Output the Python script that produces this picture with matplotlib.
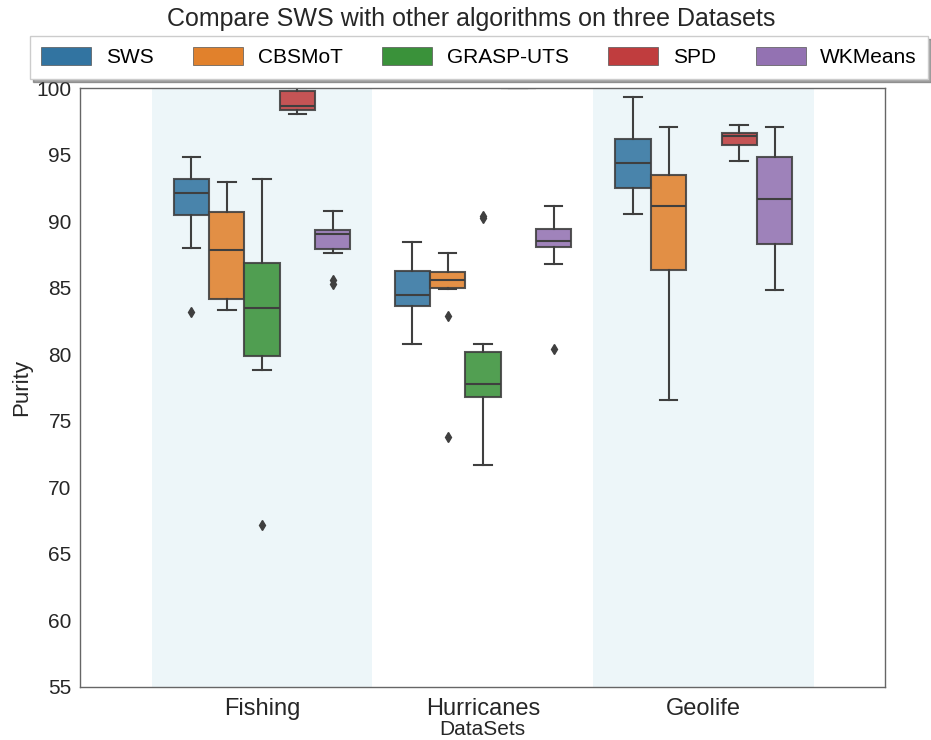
import numpy as np
import matplotlib
matplotlib.use("Agg")
import matplotlib.pyplot as plt
from matplotlib.patches import Patch

plt.rcParams['font.family'] = ['Liberation Sans', 'DejaVu Sans']

datasets = ["Fishing", "Hurricanes", "Geolife"]
algorithms = ["SWS", "CBSMoT", "GRASP-UTS", "SPD", "WKMeans"]
colors = ["#3274a1", "#e1812c", "#3a923a", "#c03d3e", "#9372b2"]

nan = np.nan
# box summaries, one row per algorithm, one column per dataset
medians = [
    [92.1, 84.45, 94.4],
    [87.85, 85.55, 91.1],
    [83.45, 77.75, nan],
    [98.65, 100.0, 96.4],
    [89.0, 88.5, 91.65],
]
q1 = [
    [90.45, 83.65, 92.45],
    [84.15, 84.95, 86.35],
    [79.85, 76.8, nan],
    [98.35, 100.0, 95.7],
    [87.9, 88.05, 88.25],
]
q3 = [
    [93.15, 86.25, 96.15],
    [90.65, 86.2, 93.5],
    [86.85, 80.2, nan],
    [99.8, 100.0, 96.6],
    [89.35, 89.4, 94.85],
]
whis_lo = [
    [87.95, 80.8, 90.55],
    [83.3, 84.9, 76.55],
    [78.85, 71.7, nan],
    [98.05, 100.0, 94.55],
    [87.6, 86.75, 84.8],
]
whis_hi = [
    [94.85, 88.4, 99.35],
    [92.95, 87.6, 97.1],
    [93.15, 80.75, nan],
    [100.0, 100.0, 97.25],
    [90.75, 91.15, 97.1],
]
outliers = [
    [[83.15], [], []],
    [[], [82.9, 73.8], []],
    [[67.15], [90.2, 90.4], []],
    [[], [], []],
    [[85.55, 85.25], [80.4], []],
]

fig, ax = plt.subplots(figsize=(9.31, 7.40), dpi=100)
fig.subplots_adjust(left=80 / 931, right=885 / 931, top=1 - 88 / 740, bottom=1 - 687 / 740)

# shade every other dataset
for i in range(0, len(datasets), 2):
    ax.axvspan(i - 0.5, i + 0.5, color="lightblue", alpha=0.22, lw=0, zorder=0)

width = 0.8 / len(algorithms)
line_col = "#3f3f3f"
for a, alg in enumerate(algorithms):
    stats, pos = [], []
    for d in range(len(datasets)):
        if np.isnan(medians[a][d]):
            continue
        stats.append(dict(med=medians[a][d], q1=q1[a][d], q3=q3[a][d],
                          whislo=whis_lo[a][d], whishi=whis_hi[a][d],
                          fliers=outliers[a][d]))
        pos.append(d - 0.4 + width * (a + 0.5))
    ax.bxp(stats, positions=pos, widths=width, patch_artist=True,
           boxprops=dict(facecolor=colors[a], edgecolor=line_col, lw=1.5, alpha=0.88),
           whiskerprops=dict(color=line_col, lw=1.5),
           capprops=dict(color=line_col, lw=1.5),
           medianprops=dict(color=line_col, lw=1.5),
           flierprops=dict(marker="d", markersize=5, markerfacecolor=line_col,
                           markeredgecolor=line_col))

ax.set_xlim(-0.824, 2.82)
ax.set_ylim(55, 100)
ax.set_yticks(np.arange(55, 101, 5))
ax.set_xticks(range(len(datasets)))
ax.set_xticklabels(datasets, fontsize=17)
ax.tick_params(axis="y", labelsize=15, length=0, pad=6, colors="#262626")
ax.tick_params(axis="x", length=0, pad=8, colors="#262626")
ax.set_xlabel("DataSets", fontsize=15, labelpad=0, color="#262626")
ax.set_ylabel("Purity", fontsize=16, labelpad=3, color="#262626")
for s in ax.spines.values():
    s.set_color("#666666")
    s.set_linewidth(1.0)

handles = [Patch(facecolor=c, edgecolor="#555555", lw=0.5, label=l)
           for c, l in zip(colors, algorithms)]
fig.legend(handles=handles, loc="upper left", bbox_to_anchor=(30 / 931, 1 - 36 / 740),
           borderaxespad=0, ncol=5, fontsize=15, shadow=True, fancybox=False,
           framealpha=1, handlelength=2.4, handleheight=0.9, handletextpad=0.7,
           columnspacing=1.9, borderpad=0.55, edgecolor="#cccccc")

fig.suptitle("Compare SWS with other algorithms on three Datasets", x=471 / 931,
             y=1 - 7 / 740, va="top", fontsize=18, color="#262626")

fig.savefig("out.png", dpi=100)
